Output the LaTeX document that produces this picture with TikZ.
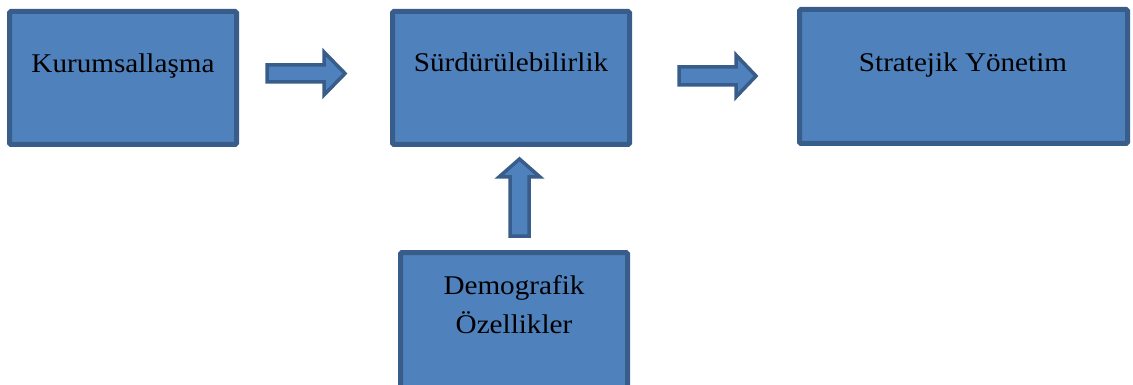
\documentclass[tikz,border=0pt]{standalone}
\usepackage{fontspec}
\setmainfont[FakeStretch=1.08]{Liberation Serif}
\definecolor{boxfill}{HTML}{4F81BD}
\definecolor{boxline}{HTML}{385D8A}
\tikzset{
  blockbox/.style={draw=boxline, fill=boxfill, line width=5pt, rounded corners=1.5pt},
  blockarrow/.style={draw=boxline, fill=boxfill, line width=3.5pt, line join=miter},
  lbl/.style={font=\fontsize{27}{39}\selectfont, text=black, inner sep=0pt, anchor=base, align=center}
}
\begin{document}
\begin{tikzpicture}[x=1pt,y=-1pt]
\useasboundingbox (0,0) rectangle (1133,385);
% boxes
\draw[blockbox] (9.5,11.5) rectangle (236.5,144.5);
\coordinate (b1) at (123,73);
\draw[blockbox] (392.5,11.5) rectangle (629.5,144.5);
\coordinate (b2) at (511,72);
\draw[blockbox] (799.5,9.5) rectangle (1127.5,143.5);
\coordinate (b3) at (963,72);
\draw[blockbox] (400.5,252.5) rectangle (627.5,400);
\coordinate (b4) at (514,333);
% labels
\node[lbl] (t1) at (b1) {Kurumsallaşma};
\node[lbl] (t2) at (b2) {Sürdürülebilirlik};
\node[lbl] (t3) at (b3) {Stratejik Yönetim};
\node[lbl] (t4) at (b4) {Demografik\\Özellikler};
% block arrows
\draw[blockarrow] (267,65) -- (324,65) -- (324,52) -- (345,73.5) -- (324,95) -- (324,82) -- (267,82) -- cycle;
\draw[blockarrow] (679,67) -- (736,67) -- (736,55) -- (756,76) -- (736,97) -- (736,85) -- (679,85) -- cycle;
\draw[blockarrow] (510,236) -- (510,177) -- (499,177) -- (519.5,159) -- (540,177) -- (529,177) -- (529,236) -- cycle;
\end{tikzpicture}
\end{document}
